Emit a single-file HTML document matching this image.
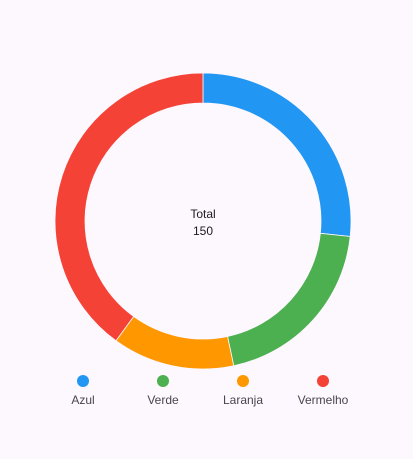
<!DOCTYPE html>
<html><head><meta charset="utf-8"><style>
html,body{margin:0;padding:0;background:#fdf7fe;}
body{width:413px;height:454px;overflow:hidden;font-family:"Liberation Sans",sans-serif;}
</style></head><body>
<svg id="chart" width="413" height="454"></svg>
<script>
const categories=["Azul","Verde","Laranja","Vermelho"];
const values=[40,30,20,60];
const colors=["#2196F3","#4CAF50","#FF9800","#F44336"];
const svg=document.getElementById('chart');
const NS="http://www.w3.org/2000/svg";
const cx=203,cy=221,ro=148,ri=118;
const total=values.reduce((a,b)=>a+b,0);
function pt(r,a){return [cx+r*Math.sin(a),cy-r*Math.cos(a)];}
let start=0;
values.forEach((v,i)=>{
  const ang=v/total*Math.PI*2,end=start+ang;
  const large=ang>Math.PI?1:0;
  const [x1,y1]=pt(ro,start),[x2,y2]=pt(ro,end),[x3,y3]=pt(ri,end),[x4,y4]=pt(ri,start);
  const p=document.createElementNS(NS,'path');
  p.setAttribute('d',`M${x1},${y1}A${ro},${ro} 0 ${large} 1 ${x2},${y2}L${x3},${y3}A${ri},${ri} 0 ${large} 0 ${x4},${y4}Z`);
  p.setAttribute('fill',colors[i]);
  p.setAttribute('stroke','#fdf7fe');p.setAttribute('stroke-width','0.8');
  
  
  svg.appendChild(p);
  start=end;
});
const t1=document.createElementNS(NS,'text');
t1.setAttribute('x',cx);t1.setAttribute('y',218);t1.setAttribute('text-anchor','middle');
t1.setAttribute('font-size','12');t1.setAttribute('fill','#1d1b20');t1.textContent='Total';


svg.appendChild(t1);
const t2=document.createElementNS(NS,'text');
t2.setAttribute('x',cx);t2.setAttribute('y',235);t2.setAttribute('text-anchor','middle');
t2.setAttribute('font-size','12');t2.setAttribute('fill','#1d1b20');t2.textContent=String(total);


svg.appendChild(t2);
categories.forEach((c,i)=>{
  const x=83+i*80;
  const g=document.createElementNS(NS,'g');
  
  
  const d=document.createElementNS(NS,'circle');
  d.setAttribute('cx',x);d.setAttribute('cy',381);d.setAttribute('r',6);d.setAttribute('fill',colors[i]);
  
  
  const t=document.createElementNS(NS,'text');
  t.setAttribute('x',x);t.setAttribute('y',404);t.setAttribute('text-anchor','middle');
  t.setAttribute('font-size','12');t.setAttribute('fill','#49454f');t.textContent=c;
  
  
  g.appendChild(d);g.appendChild(t);svg.appendChild(g);
});
</script>
</body></html>
